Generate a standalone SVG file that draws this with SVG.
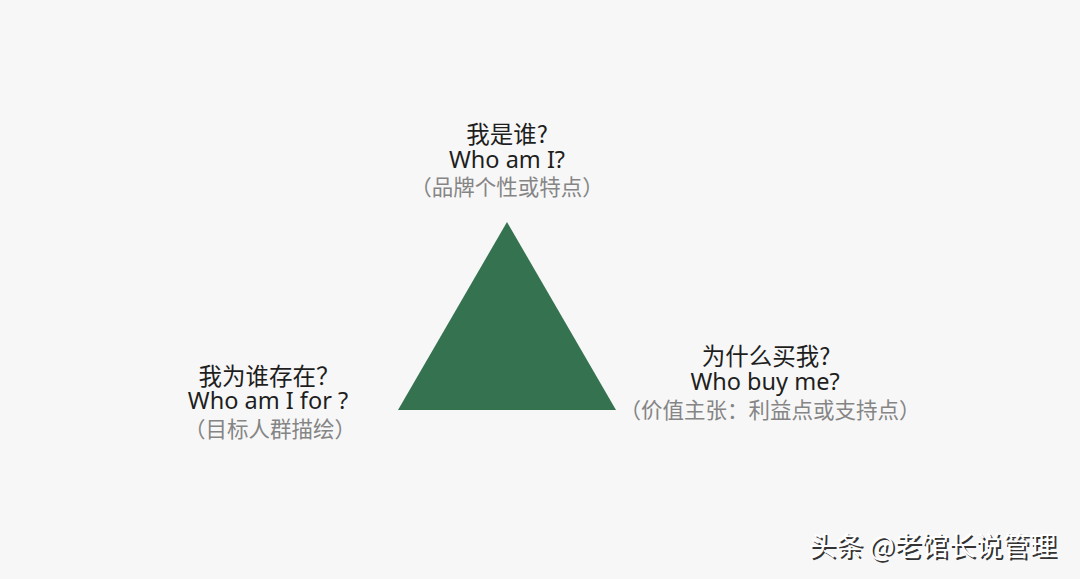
<svg xmlns="http://www.w3.org/2000/svg" width="1080" height="579" viewBox="0 0 1080 579">
<style>
.t{text-anchor:middle}
.c{font-family:"Noto Sans CJK SC",sans-serif}
.l{font-family:"Noto Sans","Noto Sans CJK SC",sans-serif}
.h{font-size:23.5px;fill:#1e1e1e;font-weight:400}
.s{font-size:21.5px;fill:#858585;font-weight:400}
.wm{font-family:"Noto Sans CJK SC",sans-serif;font-size:27px}
</style>
<rect width="1080" height="579" fill="#f7f7f7"/>
<g id="triangle"><polygon points="507,222 398,410 616,410" fill="#357250"/></g>
<g id="top">
<text class="t c h" x="507" y="143">我是谁?</text>
<text class="t l h" x="507" y="168">Who am I?</text>
<text class="t c s" x="507" y="195">（品牌个性或特点）</text>
</g>
<g id="left">
<text class="t c h" x="269" y="385">我为谁存在？</text>
<text class="t l h" x="268" y="409">Who am I for ?</text>
<text class="t c s" x="270" y="437">（目标人群描绘）</text>
</g>
<g id="right">
<text class="t c h" x="766" y="365">为什么买我?</text>
<text class="t l h" x="765" y="390">Who buy me?</text>
<text class="t c s" x="770" y="418">（价值主张：利益点或支持点）</text>
</g>
<g id="connectors"/>
<g id="watermark">
<text class="wm" x="811" y="558" fill="#333333">头条 @老馆长说管理</text>
<text class="wm" x="809" y="556" fill="#ffffff">头条 @老馆长说管理</text>
</g>
</svg>
